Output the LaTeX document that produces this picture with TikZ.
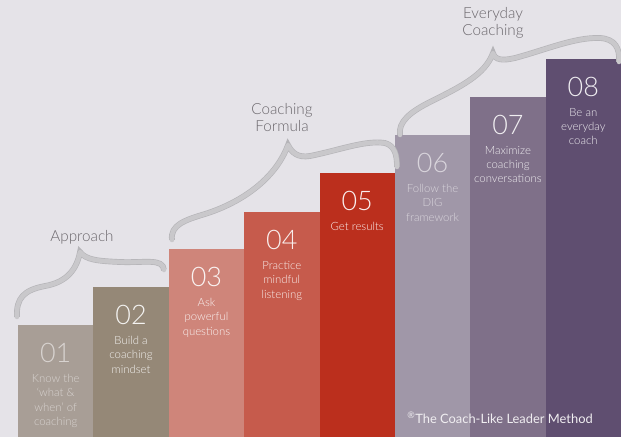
\documentclass[tikz,border=0pt]{standalone}
\usepackage{fontspec}
\setmainfont{Lato}
\newfontfamily\thinfont{Lato}[UprightFont=* Light]
\usetikzlibrary{positioning}
\definecolor{bgcol}{HTML}{E5E3E8}
\definecolor{stepA}{HTML}{A89E96}
\definecolor{stepB}{HTML}{958877}
\definecolor{stepC}{HTML}{CF857A}
\definecolor{stepD}{HTML}{C65B4C}
\definecolor{stepE}{HTML}{BB2F1D}
\definecolor{stepF}{HTML}{A097A8}
\definecolor{stepG}{HTML}{7F7089}
\definecolor{stepH}{HTML}{5F4E70}
\definecolor{bracefill}{HTML}{C9C8CB}
\definecolor{braceedge}{HTML}{B5B4B8}
\definecolor{titlecol}{HTML}{6B676C}
\tikzset{bar/.style={inner sep=0pt, outer sep=0pt, minimum width=2.26125cm, anchor=south west}}
\tikzset{num/.style={font=\thinfont\fontsize{23}{23}\selectfont}}
\tikzset{lbl/.style={font=\thinfont\fontsize{9.7}{12.2}\selectfont, align=center, inner sep=0pt, anchor=north}}
\tikzset{stage/.style={font=\thinfont\fontsize{13}{14.5}\selectfont, text=titlecol, align=center}}
\tikzset{brace/.style={line cap=round, line join=round, draw=bracefill, line width=3.8pt,
    preaction={draw=braceedge, line width=4.9pt}}}

\begin{document}
\begin{tikzpicture}[x=0.03cm, y=-0.03cm]
  % background, sized like the page
  \fill[bgcol] (0,0) rectangle (621,437);
  \useasboundingbox (0,0) rectangle (621,437);

  % the eight steps
  \foreach \i/\t/\c/\k/\txt in {
      1/325/stepA/55/{Know the\\‘what \&\\when’ of\\coaching},
      2/287/stepB/90/{Build a\\coaching\\mindset},
      3/249/stepC/90/{Ask\\powerful\\questions},
      4/212/stepD/90/{Practice\\mindful\\listening},
      5/173/stepE/92/{Get results},
      6/135/stepF/60/{Follow the\\DIG\\framework},
      7/97/stepG/88/{Maximize\\coaching\\conversations},
      8/59/stepH/90/{Be an\\everyday\\coach}}
  {
    \pgfmathsetmacro{\x}{18+(\i-1)*75.375}
    \node[bar, fill=\c, minimum height={(437-\t)*0.03cm}] (b\i) at (\x,437) {};
    \node[num, text=white!\k!\c] (n\i) at (\x+37.7,\t+28) {0\i};
    \node[lbl, text=white!\k!\c] (l\i) at (\x+37.7,\t+49) {\txt};
  }

  % stage titles
  \node[stage] (approach) at (82,237) {Approach};
  \node[stage] (formula) at (282,118) {Coaching\\Formula};
  \node[stage] (everyday) at (493,23) {Everyday\\Coaching};

  % braces
  \draw[brace] (17,317) .. controls (16,298) and (24,290) .. (45,286)
    .. controls (68,282) and (77,268) .. (80,252)
    .. controls (86,260) and (98,261) .. (120,262)
    .. controls (145,263) and (163,258) .. (164,270);
  \draw[brace] (172,240) .. controls (170,225) and (185,220) .. (205,214)
    .. controls (240,203) and (275,180) .. (288,145)
    .. controls (292,153) and (298,158) .. (310,156)
    .. controls (340,150) and (365,140) .. (385,143)
    .. controls (395,146) and (397,155) .. (397,167);
  \draw[brace] (400,135) .. controls (398,122) and (410,112) .. (430,102)
    .. controls (460,87) and (485,75) .. (493,53)
    .. controls (495,60) and (502,61) .. (515,58)
    .. controls (545,50) and (575,37) .. (600,38)
    .. controls (615,39) and (620,48) .. (619,62);

  \node[font=\fontsize{11}{12}\selectfont, text=white!88!stepG] (method) at (500,418)
    {\textsuperscript{®}The Coach-Like Leader Method};
\end{tikzpicture}
\end{document}
